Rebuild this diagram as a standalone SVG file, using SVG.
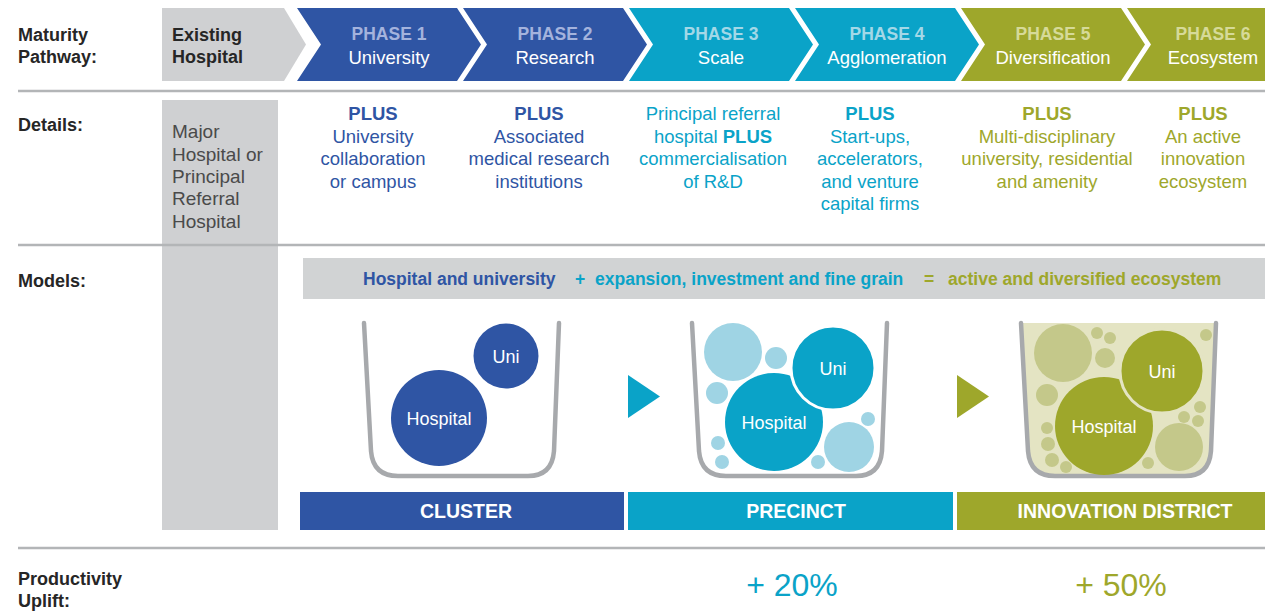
<svg xmlns="http://www.w3.org/2000/svg" width="1265" height="611" viewBox="0 0 1265 611">
<style>
text{font-family:"Liberation Sans",Arial,sans-serif}
.lbl{font-size:18px;font-weight:bold;fill:#262626}
.ph{font-size:17.5px;font-weight:bold;text-anchor:middle}
.pw{font-size:18.5px;fill:#fff;text-anchor:middle}
.det{font-size:18.5px;text-anchor:middle}
.b{font-weight:bold}
.blue{fill:#2f55a4}.cyan{fill:#0aa3c8}.olive{fill:#9ea72b}
.sep{stroke:#b3b5b7;stroke-width:2.5}
.cup{fill:none;stroke:#a7a9ac;stroke-width:4.5;stroke-linecap:round;stroke-linejoin:round}
.ctext{font-size:18px;fill:#fff;text-anchor:middle}
.bar{font-size:19.5px;font-weight:bold;fill:#fff;text-anchor:middle}
.pct{font-size:32px;text-anchor:middle}
</style>
<defs>
<path id="cupShape" d="M0,0 L7,128 Q9,153 34,153 L164,153 Q188,153 190,128 L195,0"/>
</defs>
<rect width="1265" height="611" fill="#fff"/>

<g id="separators">
<line class="sep" x1="18" y1="91" x2="1265" y2="91"/>
<line class="sep" x1="18" y1="245" x2="1265" y2="245"/>
<line class="sep" x1="18" y1="548" x2="1265" y2="548"/>
</g>

<g id="row-labels">
<text class="lbl" x="18" y="41">Maturity</text>
<text class="lbl" x="18" y="63">Pathway:</text>
<text class="lbl" x="18" y="131">Details:</text>
<text class="lbl" x="18" y="287">Models:</text>
<text class="lbl" x="18" y="585">Productivity</text>
<text class="lbl" x="18" y="607">Uplift:</text>
</g>

<g id="existing-hospital">
<rect x="162" y="100" width="116" height="430" fill="#cfd0d2"/>
<line class="sep" x1="162" y1="245" x2="278" y2="245"/>
<path d="M162,8 H284 L306,44.5 L284,81 H162 Z" fill="#cfd0d2"/>
<text class="lbl" x="172" y="41">Existing</text>
<text class="lbl" x="172" y="63">Hospital</text>
<g font-size="19" fill="#4a4a4a">
<text x="172" y="138">Major</text>
<text x="172" y="161">Hospital or</text>
<text x="172" y="183">Principal</text>
<text x="172" y="205">Referral</text>
<text x="172" y="228">Hospital</text>
</g>
</g>

<g id="phase1">
<path d="M297,8 H457 L481,44.5 L457,81 H297 L321,44.5 Z" fill="#2f55a4"/>
<text class="ph" x="389" y="40" fill="#a4b3dd">PHASE 1</text>
<text class="pw" x="389" y="64">University</text>
<g class="det blue">
<text x="373" y="120" class="b">PLUS</text>
<text x="373" y="143">University</text>
<text x="373" y="165">collaboration</text>
<text x="373" y="188">or campus</text>
</g>
</g>

<g id="phase2">
<path d="M463,8 H623 L647,44.5 L623,81 H463 L487,44.5 Z" fill="#2f55a4"/>
<text class="ph" x="555" y="40" fill="#a4b3dd">PHASE 2</text>
<text class="pw" x="555" y="64">Research</text>
<g class="det blue">
<text x="539" y="120" class="b">PLUS</text>
<text x="539" y="143">Associated</text>
<text x="539" y="165">medical research</text>
<text x="539" y="188">institutions</text>
</g>
</g>

<g id="phase3">
<path d="M629,8 H789 L813,44.5 L789,81 H629 L653,44.5 Z" fill="#0aa3c8"/>
<text class="ph" x="721" y="40" fill="#a3d8e7">PHASE 3</text>
<text class="pw" x="721" y="64">Scale</text>
<g class="det cyan">
<text x="713" y="120">Principal referral</text>
<text x="713" y="143">hospital <tspan class="b">PLUS</tspan></text>
<text x="713" y="165">commercialisation</text>
<text x="713" y="188">of R&amp;D</text>
</g>
</g>

<g id="phase4">
<path d="M795,8 H955 L979,44.5 L955,81 H795 L819,44.5 Z" fill="#0aa3c8"/>
<text class="ph" x="887" y="40" fill="#a3d8e7">PHASE 4</text>
<text class="pw" x="887" y="64">Agglomeration</text>
<g class="det cyan">
<text x="870" y="120" class="b">PLUS</text>
<text x="870" y="143">Start-ups,</text>
<text x="870" y="165">accelerators,</text>
<text x="870" y="188">and venture</text>
<text x="870" y="210">capital firms</text>
</g>
</g>

<g id="phase5">
<path d="M961,8 H1121 L1145,44.5 L1121,81 H961 L985,44.5 Z" fill="#9ea72b"/>
<text class="ph" x="1053" y="40" fill="#d6da98">PHASE 5</text>
<text class="pw" x="1053" y="64">Diversification</text>
<g class="det olive">
<text x="1047" y="120" class="b">PLUS</text>
<text x="1047" y="143">Multi-disciplinary</text>
<text x="1047" y="165">university, residential</text>
<text x="1047" y="188">and amenity</text>
</g>
</g>

<g id="phase6">
<path d="M1127,8 H1265 V81 H1127 L1151,44.5 Z" fill="#9ea72b"/>
<text class="ph" x="1213" y="40" fill="#d6da98">PHASE 6</text>
<text class="pw" x="1213" y="64">Ecosystem</text>
<g class="det olive">
<text x="1203" y="120" class="b">PLUS</text>
<text x="1203" y="143">An active</text>
<text x="1203" y="165">innovation</text>
<text x="1203" y="188">ecosystem</text>
</g>
</g>

<g id="models-band">
<rect x="303" y="258" width="962" height="41" fill="#d1d3d4"/>
<text font-size="17.5" font-weight="bold" y="285">
<tspan x="363" class="blue">Hospital and university</tspan>
<tspan x="575" class="cyan">+</tspan>
<tspan x="595" class="cyan">expansion, investment and fine grain</tspan>
<tspan x="924" class="olive">=</tspan>
<tspan x="948" class="olive">active and diversified ecosystem</tspan>
</text>
</g>

<g id="cluster-cup">
<use href="#cupShape" x="364" y="323" class="cup"/>
<circle cx="439" cy="418" r="48" fill="#2f55a4"/>
<circle cx="506" cy="356" r="32.5" fill="#2f55a4"/>
<text class="ctext" x="439" y="425">Hospital</text>
<text class="ctext" x="506" y="363">Uni</text>
</g>

<g id="precinct-cup">
<use href="#cupShape" x="692" y="323" class="cup"/>
<g fill="#9fd4e4">
<circle cx="733" cy="352" r="29"/>
<circle cx="776" cy="358" r="11"/>
<circle cx="717" cy="393" r="11"/>
<circle cx="718" cy="443" r="7"/>
<circle cx="722" cy="462" r="7"/>
<circle cx="818" cy="462" r="7"/>
<circle cx="868" cy="419" r="7"/>
<circle cx="849" cy="447" r="25"/>
</g>
<circle cx="774" cy="422" r="49" fill="#0aa3c8"/>
<circle cx="833" cy="368" r="42" fill="#0aa3c8" stroke="#fff" stroke-width="3"/>
<text class="ctext" x="774" y="429">Hospital</text>
<text class="ctext" x="833" y="375">Uni</text>
</g>

<g id="district-cup">
<path d="M1021,323 L1028,451 Q1030,476 1055,476 L1185,476 Q1209,476 1211,451 L1216,323 Z" fill="#e4e4c3"/>
<use href="#cupShape" x="1021" y="323" class="cup"/>
<g fill="#c4c88a">
<circle cx="1063" cy="353" r="29"/>
<circle cx="1097" cy="333" r="6"/>
<circle cx="1110" cy="338" r="6"/>
<circle cx="1105" cy="358" r="10"/>
<circle cx="1206" cy="335" r="6"/>
<circle cx="1047" cy="395" r="11"/>
<circle cx="1047" cy="428" r="6"/>
<circle cx="1048" cy="444" r="7"/>
<circle cx="1052" cy="460" r="7"/>
<circle cx="1066" cy="467" r="6"/>
<circle cx="1200" cy="407" r="6"/>
<circle cx="1184" cy="417" r="6"/>
<circle cx="1198" cy="421" r="6"/>
<circle cx="1179" cy="447" r="24"/>
<circle cx="1148" cy="463" r="6"/>
</g>
<circle cx="1104" cy="426" r="49" fill="#9ea72b"/>
<circle cx="1162" cy="371" r="42" fill="#9ea72b" stroke="#e4e4c3" stroke-width="3"/>
<text class="ctext" x="1104" y="433">Hospital</text>
<text class="ctext" x="1162" y="378">Uni</text>
</g>

<g id="connectors">
<path d="M628,375 L628,418 L660,396.5 Z" fill="#0aa3c8"/>
<path d="M957,375 L957,418 L989,396.5 Z" fill="#9ea72b"/>
</g>

<g id="cluster-bar">
<rect x="300" y="492" width="324" height="38" fill="#2f55a4"/>
<text class="bar" x="466" y="518">CLUSTER</text>
</g>
<g id="precinct-bar">
<rect x="628" y="492" width="325" height="38" fill="#0aa3c8"/>
<text class="bar" x="796" y="518">PRECINCT</text>
</g>
<g id="district-bar">
<rect x="957" y="492" width="308" height="38" fill="#9ea72b"/>
<text class="bar" x="1125" y="518">INNOVATION DISTRICT</text>
</g>

<g id="uplift">
<text class="pct cyan" x="792" y="596">+ 20%</text>
<text class="pct olive" x="1121" y="596">+ 50%</text>
</g>
</svg>
